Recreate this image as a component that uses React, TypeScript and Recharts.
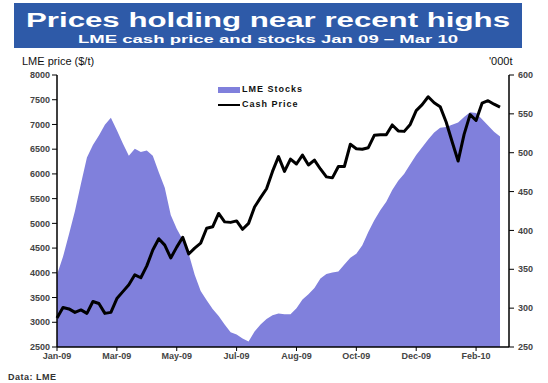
import React from 'react'
import { Area, ComposedChart, Line, XAxis, YAxis } from 'recharts'

// x axis labels, one every 10 points
const tickLabels = ['Jan-09', 'Mar-09', 'May-09', 'Jul-09', 'Aug-09', 'Oct-09', 'Dec-09', 'Feb-10']

// LME stocks, '000t
const stocks = [
  343, 366, 395, 425, 460, 494, 510, 522, 536, 545,
  529, 512, 496, 505, 501, 503, 496, 475, 455, 420,
  402, 388, 370, 343, 322, 310, 299, 290, 279, 269,
  266, 261, 257, 270, 279, 286, 291, 293, 292, 292,
  300, 311, 318, 326, 338, 344, 346, 347, 356, 365,
  370, 381, 398, 413, 426, 437, 452, 464, 473, 485,
  497, 507, 517, 526, 532, 533, 536, 539, 546, 552,
  551, 543, 535, 527, 521,
]

// LME cash price, $/t
const cashPrice = [
  3086, 3300, 3270, 3200, 3250, 3180, 3420, 3380, 3180, 3200,
  3480, 3620, 3760, 3960, 3900, 4140, 4460, 4690, 4560, 4300,
  4520, 4720, 4380, 4500, 4600, 4900, 4930, 5200, 5030, 5020,
  5050, 4880, 5000, 5330, 5520, 5700, 6050, 6350, 6050, 6300,
  6200, 6380, 6180, 6280, 6100, 5940, 5920, 6150, 6150, 6600,
  6510, 6500, 6530, 6780, 6790, 6790, 6990, 6870, 6860, 7000,
  7280, 7400, 7560, 7440, 7360, 7050, 6650, 6260, 6800, 7200,
  7080, 7430, 7480, 7410, 7350,
]

const priceTicks = [2500, 3000, 3500, 4000, 4500, 5000, 5500, 6000, 6500, 7000, 7500, 8000]
const stockTicks = [250, 300, 350, 400, 450, 500, 550, 600]

const chartData = cashPrice.map((p, i) => ({ idx: i, price: p, stocks: stocks[i] }))

const font = "'Liberation Sans', Arial, sans-serif"
const tickStyle = { fontSize: 9, fill: '#444', fontWeight: 'bold', fontFamily: font }

const ChartLegend = () => (
  <div style={{ position: 'absolute', left: 218, top: 82, fontFamily: font, fontSize: 9, fontWeight: 'bold', color: '#111', lineHeight: '15px' }}>
    <div style={{ display: 'flex', alignItems: 'center' }}>
      <span style={{ width: 22, height: 6, background: '#8080DC', marginRight: 2 }} />
      <span style={{ letterSpacing: 1 }}>LME Stocks</span>
    </div>
    <div style={{ display: 'flex', alignItems: 'center' }}>
      <span style={{ width: 22, height: 2, background: '#000', marginRight: 2 }} />
      <span style={{ letterSpacing: 1 }}>Cash Price</span>
    </div>
  </div>
)

const App = () => {
  return (
    <div style={{ position: 'absolute', left: 0, top: 0, width: 548, height: 383, background: '#fff', fontFamily: font }}>
      <svg width={548} height={50} style={{ position: 'absolute', left: 0, top: 0 }}>
        <rect x={14} y={3} width={508} height={45} fill="#2E5AA8" />
        <text x={268} y={27} fill="#fff" fontSize={20} fontWeight="bold" textAnchor="middle"
          fontFamily={font} textLength={484} lengthAdjust="spacingAndGlyphs">
          Prices holding near recent highs
        </text>
        <text x={268} y={43} fill="#fff" fontSize={11} fontWeight="bold" textAnchor="middle"
          fontFamily={font} textLength={380} lengthAdjust="spacingAndGlyphs">
          LME cash price and stocks Jan 09 – Mar 10
        </text>
      </svg>
      <div style={{ position: 'absolute', left: 22, top: 55, fontSize: 11, color: '#111' }}>LME price ($/t)</div>
      <div style={{ position: 'absolute', left: 489, top: 55, fontSize: 11, color: '#111' }}>'000t</div>
      <div style={{ position: 'absolute', left: 8, top: 372, fontSize: 9, fontWeight: 'bold', color: '#333', letterSpacing: 0.5 }}>Data: LME</div>
      <ComposedChart
        width={548}
        height={383}
        data={chartData}
        margin={{ top: 75, right: 0, left: 0, bottom: 0 }}
        style={{ position: 'absolute', left: 0, top: 0 }}
      >
        <XAxis
          dataKey="idx"
          type="number"
          domain={[0, 75.5]}
          ticks={tickLabels.map((_, i) => i * 10)}
          tickFormatter={(v: number) => tickLabels[Math.round(v / 10)]}
          height={36}
          tickSize={4}
          tickMargin={2}
          tick={tickStyle}
          axisLine={{ stroke: '#000', strokeWidth: 1.5 }}
          tickLine={{ stroke: '#000' }}
        />
        <YAxis
          yAxisId="left"
          orientation="left"
          width={57}
          domain={[2500, 8000]}
          ticks={priceTicks}
          interval={0}
          tickSize={5}
          tickMargin={2}
          tick={tickStyle}
          axisLine={{ stroke: '#000', strokeWidth: 1.5 }}
          tickLine={{ stroke: '#000' }}
        />
        <YAxis
          yAxisId="right"
          orientation="right"
          width={39}
          domain={[250, 600]}
          ticks={stockTicks}
          interval={0}
          tickSize={5}
          tickMargin={4}
          tick={tickStyle}
          axisLine={{ stroke: '#000', strokeWidth: 1.5 }}
          tickLine={{ stroke: '#000' }}
        />
        <Area
          yAxisId="right"
          dataKey="stocks"
          name="LME Stocks"
          type="linear"
          fill="#8080DC"
          fillOpacity={1}
          stroke="none"
          isAnimationActive={false}
        />
        <Line
          yAxisId="left"
          dataKey="price"
          name="Cash Price"
          type="linear"
          stroke="#000"
          strokeWidth={3}
          strokeLinejoin="round"
          dot={false}
          isAnimationActive={false}
        />
      </ComposedChart>
      <ChartLegend />
    </div>
  )
}

export default App
